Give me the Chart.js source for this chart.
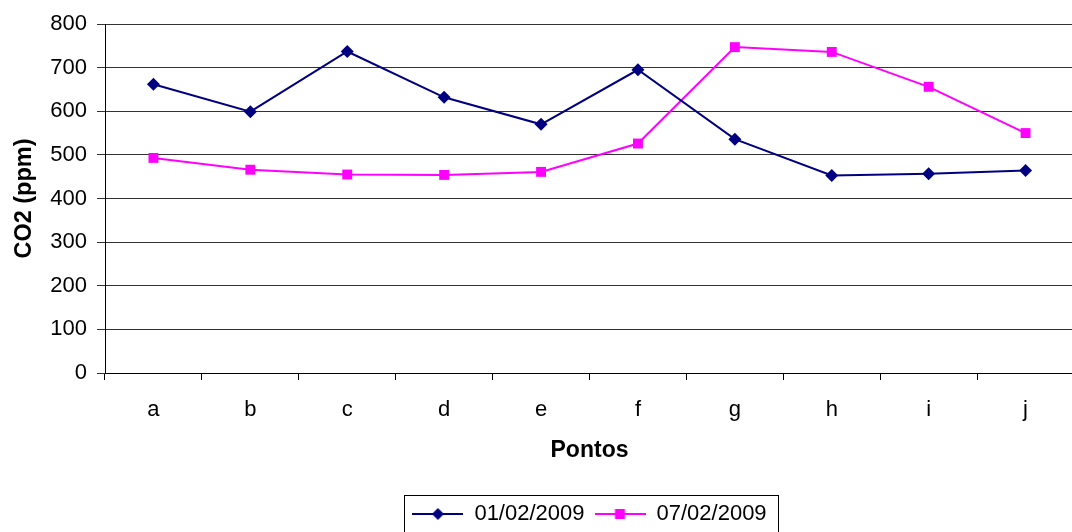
<!DOCTYPE html>
<html>
<head>
<meta charset="utf-8">
<script src="https://cdn.jsdelivr.net/npm/chart.js@4"></script>
<style>
  html, body { margin: 0; padding: 0; background: #fff; overflow: hidden; }
  #wrap { width: 1081px; height: 535px; }
</style>
</head>
<body>
<div id="wrap"><canvas id="chart" width="1081" height="535"></canvas></div>
<script>
const pontos = ['a', 'b', 'c', 'd', 'e', 'f', 'g', 'h', 'i', 'j'];
const serie1Label = '01/02/2009';
const serie1 = [662, 599, 737, 632, 570, 695, 536, 453, 457, 464];
const serie2Label = '07/02/2009';
const serie2 = [493, 466, 455, 454, 461, 526, 747, 736, 656, 550];
const yTicks = [0, 100, 200, 300, 400, 500, 600, 700, 800];

const navy = '#000080';
const magenta = '#ff00ff';
const fontFamily = "'Liberation Sans', Arial, sans-serif";

// little line + marker swatch for the legend
function legendSwatch(color, shape) {
    const c = document.createElement('canvas');
    c.width = 51;
    c.height = 14;
    const ctx = c.getContext('2d');
    ctx.strokeStyle = color;
    ctx.lineWidth = 2;
    ctx.beginPath();
    ctx.moveTo(0, 7);
    ctx.lineTo(51, 7);
    ctx.stroke();
    ctx.fillStyle = color;
    if (shape === 'diamond') {
        ctx.beginPath();
        ctx.moveTo(25.5, 1);
        ctx.lineTo(31.5, 7);
        ctx.lineTo(25.5, 13);
        ctx.lineTo(19.5, 7);
        ctx.closePath();
        ctx.fill();
    } else {
        ctx.fillRect(20.5, 2, 10, 10);
    }
    return c;
}

const swatches = [legendSwatch(navy, 'diamond'), legendSwatch(magenta, 'square')];

const legendBorder = {
    id: 'legendBorder',
    afterDraw(chart) {
        const boxes = chart.legend.legendHitBoxes;
        if (!boxes || !boxes.length) return;
        const first = boxes[0];
        const last = boxes[boxes.length - 1];
        const ctx = chart.ctx;
        const midY = first.top + first.height / 2;
        ctx.save();
        ctx.strokeStyle = '#000';
        ctx.lineWidth = 1;
        ctx.strokeRect(Math.round(first.left - 8) + 0.5, Math.round(midY - 19) + 0.5,
            Math.round(last.left + last.width - first.left + 20), 44);
        ctx.restore();
    }
};

new Chart(document.getElementById('chart'), {
    type: 'line',
    data: {
        labels: pontos,
        datasets: [{
            label: serie1Label,
            data: serie1,
            borderColor: navy,
            backgroundColor: navy,
            borderWidth: 2,
            pointStyle: 'rectRot',
            pointRadius: 6.5,
            pointHoverRadius: 6.5,
            pointBorderWidth: 0,
            tension: 0
        }, {
            label: serie2Label,
            data: serie2,
            borderColor: magenta,
            backgroundColor: magenta,
            borderWidth: 2,
            pointStyle: 'rect',
            pointRadius: 7,
            pointHoverRadius: 7,
            pointBorderWidth: 0,
            tension: 0
        }]
    },
    options: {
        responsive: false,
        animation: false,
        layout: { padding: { top: 24, left: 0, right: 0, bottom: 0 } },
        scales: {
            x: {
                offset: true,
                grid: {
                    offset: true,
                    drawOnChartArea: false,
                    drawTicks: true,
                    tickLength: 7,
                    color: '#000'
                },
                border: { color: '#000', width: 1 },
                ticks: {
                    color: '#000',
                    padding: 17,
                    font: { family: fontFamily, size: 22 }
                },
                title: {
                    display: true,
                    text: 'Pontos',
                    color: '#000',
                    padding: { top: 0, bottom: 29 },
                    font: { family: fontFamily, size: 23, weight: 'bold' }
                },
                afterFit(scale) { scale.height = 120; }
            },
            y: {
                min: 0,
                max: 800,
                afterBuildTicks(scale) { scale.ticks = yTicks.map(v => ({ value: v })); },
                grid: {
                    color: '#333',
                    tickLength: 8,
                    drawTicks: true
                },
                border: { color: '#000', width: 1 },
                ticks: {
                    color: '#000',
                    padding: 10,
                    font: { family: fontFamily, size: 22 }
                },
                title: {
                    display: true,
                    text: 'CO2 (ppm)',
                    color: '#000',
                    padding: { top: 10, bottom: 0 },
                    font: { family: fontFamily, size: 23.5, weight: 'bold' }
                },
                afterFit(scale) { scale.width = 105; }
            }
        },
        plugins: {
            legend: {
                position: 'bottom',
                fullSize: false,
                labels: {
                    color: '#000',
                    usePointStyle: true,
                    pointStyleWidth: 51,
                    padding: 10,
                    font: { family: fontFamily, size: 22 },
                    generateLabels(chart) {
                        const items = Chart.defaults.plugins.legend.labels.generateLabels(chart);
                        items.forEach((item, i) => { item.pointStyle = swatches[i]; });
                        return items;
                    }
                }
            },
            tooltip: { enabled: false }
        }
    },
    plugins: [legendBorder]
});
</script>
</body>
</html>
